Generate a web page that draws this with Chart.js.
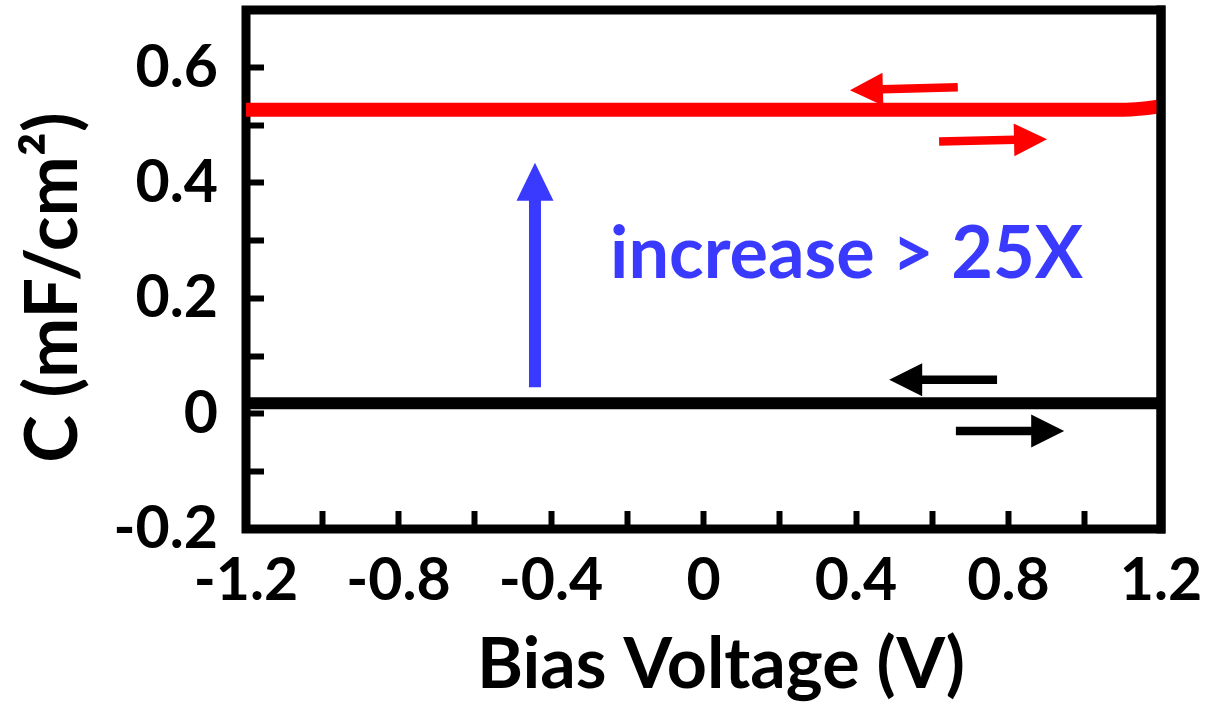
<!DOCTYPE html>
<html lang="en">
<head>
<meta charset="UTF-8">
<title>C vs Bias Voltage</title>
<script src="https://cdn.jsdelivr.net/npm/chart.js"></script>
<style>
  html, body { margin: 0; padding: 0; background: #fff; }
  #wrap { width: 1225px; height: 707px; }
</style>
</head>
<body>
<div id="wrap"><canvas id="myChart"></canvas></div>
<script>
// sweep points (V)
const voltage = [-1.2, -0.8, -0.4, 0, 0.4, 0.8, 1.0, 1.1, 1.15, 1.2];
// red curve (after), mF/cm^2
const capAfter = [0.527, 0.527, 0.527, 0.527, 0.527, 0.527, 0.527, 0.527, 0.529, 0.533];
// black curve (before), mF/cm^2
const capBefore = [0.018, 0.018, 0.018, 0.018, 0.018, 0.018, 0.018, 0.018, 0.018, 0.018];

// labelled ticks (minor ticks in between stay blank)
const xLabels = [-1.2, -0.8, -0.4, 0, 0.4, 0.8, 1.2];
const yLabels = [-0.2, 0, 0.2, 0.4, 0.6];

// sweep direction arrows, in data units [V, C]
const sweepArrows = [
  { from: [0.667, 0.566], to: [0.384, 0.561], color: '#ff0000' },
  { from: [0.618, 0.472], to: [0.901, 0.476], color: '#ff0000' },
  { from: [0.770, 0.059], to: [0.487, 0.059], color: '#000000' },
  { from: [0.662, -0.030], to: [0.946, -0.030], color: '#000000' }
];
const increaseArrow = { from: [-0.442, 0.046], to: [-0.442, 0.435], color: '#3a3aff' };
const note = { text: 'increase > 25X', at: [-0.245, 0.235], color: '#3a3aff' };

const BLUE = '#3a3aff';

function pts(ys) {
  return voltage.map((v, i) => ({ x: v, y: ys[i] }));
}

function drawArrow(ctx, x1, y1, x2, y2, color, shaftW, headLen, headHalf) {
  const ang = Math.atan2(y2 - y1, x2 - x1);
  const bx = x2 - headLen * Math.cos(ang);
  const by = y2 - headLen * Math.sin(ang);
  ctx.strokeStyle = color;
  ctx.fillStyle = color;
  ctx.lineWidth = shaftW;
  ctx.lineCap = 'butt';
  ctx.beginPath();
  ctx.moveTo(x1, y1);
  ctx.lineTo(bx + Math.cos(ang), by + Math.sin(ang));
  ctx.stroke();
  ctx.beginPath();
  ctx.moveTo(x2, y2);
  ctx.lineTo(bx + headHalf * Math.sin(ang), by - headHalf * Math.cos(ang));
  ctx.lineTo(bx - headHalf * Math.sin(ang), by + headHalf * Math.cos(ang));
  ctx.closePath();
  ctx.fill();
}

// box frame + arrows + note
const frameAndNotes = {
  id: 'frameAndNotes',
  beforeDatasetsDraw(chart) {
    const { ctx, chartArea: a } = chart;
    ctx.save();
    ctx.strokeStyle = '#000';
    ctx.lineWidth = 9;
    ctx.strokeRect(a.left, a.top, a.right - a.left, a.bottom - a.top);
    ctx.restore();
  },
  afterDatasetsDraw(chart) {
    const { ctx, chartArea: a, scales: { x, y } } = chart;
    ctx.save();
    // right edge over the line ends
    ctx.strokeStyle = '#000';
    ctx.lineWidth = 9;
    ctx.lineCap = 'square';
    ctx.beginPath();
    ctx.moveTo(a.right, a.top);
    ctx.lineTo(a.right, a.bottom);
    ctx.stroke();

    sweepArrows.forEach(ar => {
      drawArrow(ctx,
        x.getPixelForValue(ar.from[0]), y.getPixelForValue(ar.from[1]),
        x.getPixelForValue(ar.to[0]), y.getPixelForValue(ar.to[1]),
        ar.color, 8.5, 33, 16.5);
    });
    drawArrow(ctx,
      x.getPixelForValue(increaseArrow.from[0]), y.getPixelForValue(increaseArrow.from[1]),
      x.getPixelForValue(increaseArrow.to[0]), y.getPixelForValue(increaseArrow.to[1]),
      increaseArrow.color, 12, 38, 18.5);

    ctx.fillStyle = note.color;
    ctx.font = 'bold 72px Lato';
    ctx.textAlign = 'left';
    ctx.textBaseline = 'alphabetic';
    ctx.fillText(note.text, x.getPixelForValue(note.at[0]), y.getPixelForValue(note.at[1]));
    ctx.restore();
  }
};

function makeChart() {
  Chart.defaults.font.family = 'Lato';
  Chart.defaults.color = '#000';

  const tickFont = { family: 'Lato', weight: 'bold', size: 59, lineHeight: 1 };
  const tickGrid = {
    display: true,
    drawOnChartArea: false,
    drawTicks: true,
    tickLength: -18,
    tickWidth: 6,
    tickColor: '#000'
  };

  new Chart(document.getElementById('myChart'), {
    type: 'line',
    data: {
      datasets: [
        {
          label: 'after',
          data: pts(capAfter),
          borderColor: '#ff0000',
          borderWidth: 14,
          pointRadius: 0,
          cubicInterpolationMode: 'monotone',
          fill: false
        },
        {
          label: 'before',
          data: pts(capBefore),
          borderColor: '#000000',
          borderWidth: 12,
          pointRadius: 0,
          fill: false
        }
      ]
    },
    options: {
      responsive: true,
      maintainAspectRatio: false,
      animation: false,
      devicePixelRatio: 1,
      events: [],
      layout: { padding: { top: 10, right: 64, left: 0, bottom: 0 } },
      plugins: { legend: { display: false }, tooltip: { enabled: false } },
      scales: {
        x: {
          type: 'linear',
          position: 'bottom',
          min: -1.2,
          max: 1.2,
          border: { display: false },
          grid: tickGrid,
          ticks: {
            stepSize: 0.2,
            autoSkip: false,
            maxRotation: 0,
            minRotation: 0,
            padding: 40,
            color: '#000',
            font: tickFont,
            callback: v => {
              const r = Math.round(v * 10) / 10;
              return xLabels.includes(r) ? String(r) : '';
            }
          },
          title: {
            display: true,
            text: '\u2002Bias Voltage (V)',
            color: '#000',
            font: { family: 'Lato', weight: 'bold', size: 70, lineHeight: 1 },
            padding: { top: 0, bottom: 7 }
          },
          afterFit: s => {
            s.height = 178;
            s.paddingLeft = 0;
            s.paddingRight = 0;
          }
        },
        y: {
          type: 'linear',
          min: -0.2,
          max: 0.7,
          border: { display: false },
          grid: tickGrid,
          ticks: {
            stepSize: 0.1,
            autoSkip: false,
            padding: 46,
            color: '#000',
            font: tickFont,
            callback: v => {
              const r = Math.round(v * 10) / 10;
              return yLabels.includes(r) ? String(r) : '';
            }
          },
          title: {
            display: true,
            text: 'C (mF/cm\u00B2)\u2002',
            color: '#000',
            font: { family: 'Lato', weight: 'bold', size: 72, lineHeight: 1 },
            padding: { top: 18, bottom: 0 }
          },
          afterFit: s => {
            s.width = 246;
            s.paddingTop = 0;
            s.paddingBottom = 0;
          }
        }
      }
    },
    plugins: [frameAndNotes]
  });
}

Promise.all([
  document.fonts.load('bold 59px Lato'),
  document.fonts.load('bold 72px Lato')
]).catch(() => {}).then(makeChart);
</script>
</body>
</html>
